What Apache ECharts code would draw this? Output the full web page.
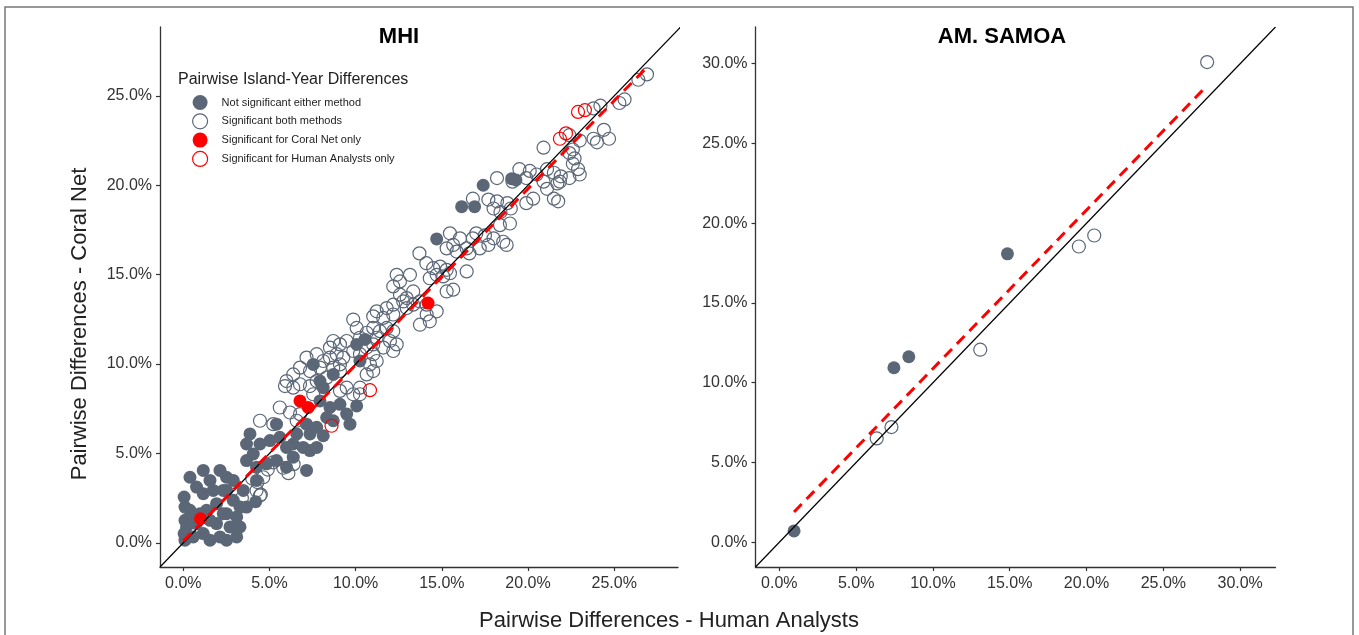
<!DOCTYPE html>
<html>
<head>
<meta charset="utf-8">
<script src="https://cdn.jsdelivr.net/npm/echarts@6/dist/echarts.min.js"></script>
<style>
  html, body { margin: 0; padding: 0; background: #fff; }
  #chart { width: 1359px; height: 635px; }
</style>
</head>
<body>
<div id="chart"></div>
<script>
// ---- Data (percent units: [Human Analysts, Coral Net]) ----
const tickValues = [0, 5, 10, 15, 20, 25];
const tickValuesSamoa = [0, 5, 10, 15, 20, 25, 30];

const mhiNotSig = [
  [0.39,3.67],[1.16,4.05],[2.13,4.05],[2.51,3.67],[1.55,3.49],[0.77,3.12],[0.05,2.56],[0.1,2.0],
  [0.39,1.82],[1.16,2.75],[1.74,2.93],[2.51,2.93],[2.9,2.38],[3.29,2.0],[3.1,1.45],[2.51,1.63],
  [1.93,2.19],[1.35,1.82],[0.77,1.08],[0.19,0.89],[0.05,0.52],[0.1,0.15],[0.58,0.33],[1.16,0.52],
  [1.55,0.15],[2.13,0.33],[2.51,0.15],[3.1,0.33],[3.29,0.89],[2.71,0.89],[1.93,1.08],[2.32,1.63],
  [1.55,1.26],[0.97,1.63],[0.58,1.45],[0.1,1.26],[2.9,3.49],[2.32,2.93],[3.48,2.93],[3.67,2.0],
  [4.2,2.3],
  [7.93,7.94],[8.51,7.57],[8.32,7.01],[9.09,7.75],[9.48,7.2],[10.06,7.66],[9.67,6.64],[8.7,6.83],
  [7.74,6.46],[7.15,6.64],[7.35,6.09],[6.58,6.09],[6.96,5.34],[6.38,5.53],[5.99,5.34],[5.41,6.64],
  [5.6,5.9],[5.03,5.72],[4.45,5.53],[3.87,6.09],[3.67,5.53],[4.06,4.97],[3.67,4.6],[4.25,4.23],
  [4.83,4.42],[5.41,4.6],[5.99,4.23],[6.38,4.79],[7.35,5.16],[7.74,5.34],[8.12,5.99],[7.15,4.05],
  [4.25,3.49],[8.12,8.68],
  [7.54,9.98],[8.7,9.42],[7.93,9.05],[10.06,11.1],[10.54,11.38],[10.25,10.17],
  [14.7,17.0],[16.15,18.8],[16.9,18.8],[17.4,20.0],[19.05,20.37],[19.3,20.3]
];

const mhiBoth = [
  [26.4,25.9],[26.9,26.2],[25.6,24.8],[25.3,24.6],[24.2,24.45],[23.8,24.3],[22.4,22.8],[23.0,22.5],
  [23.8,22.6],[24.0,22.4],[24.4,23.1],[24.7,22.6],[20.9,22.1],[22.6,22.0],[22.4,21.8],[22.7,21.5],
  [22.6,21.2],[22.9,20.9],[21.1,20.9],[21.5,20.7],[21.9,20.5],[22.4,20.4],[23.0,20.6],[19.5,20.9],
  [20.1,20.8],[20.5,20.6],[19.9,20.4],[20.9,20.2],[21.7,20.1],[19.1,20.2],[18.2,20.4],[16.8,19.25],
  [17.7,19.2],[18.2,19.1],[18.8,19.0],[18.0,18.7],[18.4,18.5],[19.0,18.7],[19.9,19.0],[20.3,19.25],
  [21.5,19.25],[21.75,19.1],[21.1,19.8],[21.85,20.2],
  [15.47,17.31],[16.05,17.03],[15.66,16.66],[15.28,16.47],[15.86,16.29],[16.44,16.47],[17.0,17.31],
  [16.8,17.03],[17.5,17.2],[17.7,16.66],[18.0,17.03],[18.56,16.84],[18.76,16.66],[18.37,17.77],
  [18.95,17.86],[17.2,16.47],[16.6,16.19],[13.7,16.19],
  [14.1,15.64],[14.5,15.36],[14.9,15.45],[15.28,15.27],[14.7,14.99],[15.08,14.9],[15.47,15.08],
  [15.66,14.16],[15.28,14.06],[16.44,15.18],[14.3,14.8],
  [12.38,14.99],[13.15,14.99],[12.57,14.62],[12.18,14.34],
  [12.57,13.88],[12.96,13.69],[13.34,14.06],[13.73,13.5],[14.12,13.32],[13.34,13.32],[12.96,13.13],
  [12.76,13.5],[12.18,13.32],[11.8,13.13],[11.22,12.95],[11.02,12.67],[11.6,12.58],[12.18,12.77],
  [14.7,12.95],[14.12,12.77],[13.73,12.2],[14.3,12.39],[9.86,12.49],
  [11.02,12.02],[11.41,11.84],[10.64,11.75],[11.8,12.02],[11.22,11.47],[12.18,11.84],[11.99,11.29],
  [12.38,11.1],[11.02,11.1],[11.6,10.92],[12.18,10.73],[10.64,10.92],[10.25,10.55],[11.02,10.55],
  [9.86,10.73],[9.48,11.29],[9.09,11.1],[8.7,11.29],[8.51,10.92],[8.9,10.55],[9.28,10.36],
  [10.25,11.47],[10.06,12.02],
  [7.15,10.36],[7.74,10.55],[8.12,10.17],[8.51,10.36],[8.7,9.8],[9.09,9.98],[7.93,9.8],[7.35,9.61],
  [6.77,9.8],[6.38,9.42],[5.99,9.05],[6.77,8.87],[7.35,8.77],[7.74,9.05],[8.32,9.24],[9.09,9.61],
  [9.48,8.68],[9.86,8.31],[10.25,8.68],[10.64,9.42],[11.02,9.61],[11.22,10.17],[10.83,9.98],
  [5.9,8.77],[6.38,8.68],[7.54,8.31],[9.09,8.5],[10.25,8.31],
  [5.6,7.57],[6.19,7.29],[6.77,7.2],[6.58,6.83],[4.45,6.83],[5.22,6.64],
  [4.64,3.67],[4.3,3.4],[4.9,4.1],[4.5,2.7],[5.2,4.5],[4.0,3.6],[3.4,2.5],[5.8,4.2],[6.1,3.9],
  [6.4,4.4],[4.45,2.65],[4.25,2.93]
];

const mhiCoralOnly = [[1.0,1.35],[6.77,7.94],[7.25,7.57],[14.2,13.41]];
const mhiHumanOnly = [[10.83,8.54],[8.6,6.55],[21.85,22.6],[22.2,22.9],[22.9,24.1],[23.3,24.2]];

const samoaNotSig = [[0.96,0.71],[7.46,10.94],[8.43,11.63],[14.85,18.08]];
const samoaBoth = [[6.34,6.51],[7.3,7.22],[13.08,12.07],[19.5,18.54],[20.5,19.23],[27.85,30.1]];

// Axis extents, 1:1 reference lines and fitted lines (endpoints)
const mhiRangeX = [-1.35, 28.7];
const mhiRangeY = [-1.35, 28.85];
const samoaRange = [-1.55, 32.3];
const mhiFit = [[0.0,0.1],[26.8,26.5]];
const samoaFit = [[0.96,1.9],[27.85,28.63]];

// ---- Styles ----
const FONT = '"Liberation Sans", Arial, sans-serif';
const SLATE = '#5b6777';
const RED = '#ff0000';
const HOLLOW = 'rgba(0,0,0,0)';

const fmt = v => v.toFixed(1) + '%';

function axis(gridIndex, range, ticks, isX) {
  return {
    type: 'value', gridIndex, min: range[0], max: range[1],
    splitLine: { show: false },
    axisLine: { show: true, onZero: false, lineStyle: { color: '#333', width: 1.3 } },
    axisTick: { show: true, length: 4, customValues: ticks, lineStyle: { color: '#333', width: 1.2 } },
    axisLabel: {
      customValues: ticks, formatter: fmt, margin: isX ? 9 : 8,
      fontSize: 16, color: '#333', fontFamily: FONT
    }
  };
}

function scatter(name, data, idx, filled, color) {
  return {
    type: 'scatter', name, data, xAxisIndex: idx, yAxisIndex: idx,
    symbol: 'circle', symbolSize: 13, silent: true,
    itemStyle: filled
      ? { color: color, borderWidth: 0, opacity: 1 }
      : { color: HOLLOW, borderColor: color, borderWidth: 1.2, opacity: 1 }
  };
}

function line(data, idx, style) {
  return {
    type: 'line', data, xAxisIndex: idx, yAxisIndex: idx, clip: true,
    symbol: 'none', silent: true, z: 5, lineStyle: style
  };
}

const chart = echarts.init(document.getElementById('chart'), null, { renderer: 'canvas' });

chart.setOption({
  animation: false,
  backgroundColor: '#fff',
  grid: [
    { left: 160, top: 27, width: 518, height: 540 },
    { left: 755.5, top: 27, width: 520, height: 540 }
  ],
  xAxis: [axis(0, mhiRangeX, tickValues, true), axis(1, samoaRange, tickValuesSamoa, true)],
  yAxis: [axis(0, mhiRangeY, tickValues, false), axis(1, samoaRange, tickValuesSamoa, false)],
  legend: {
    orient: 'vertical', left: 192, top: 95, padding: 0,
    itemWidth: 15, itemHeight: 15, itemGap: 3.2, selectedMode: false,
    textStyle: { fontSize: 11, color: '#222', fontFamily: FONT, padding: [0, 0, 0, 9] },
    data: [
      { name: 'Not significant either method', icon: 'circle', itemStyle: { color: SLATE, borderWidth: 0 } },
      { name: 'Significant both methods', icon: 'circle', itemStyle: { color: HOLLOW, borderColor: SLATE, borderWidth: 1.2 } },
      { name: 'Significant for Coral Net only', icon: 'circle', itemStyle: { color: RED, borderWidth: 0 } },
      { name: 'Significant for Human Analysts only', icon: 'circle', itemStyle: { color: HOLLOW, borderColor: RED, borderWidth: 1.2 } }
    ]
  },
  graphic: [
    { type: 'rect', silent: true, shape: { x: 5, y: 7, width: 1348, height: 640 },
      style: { fill: 'none', stroke: '#777', lineWidth: 1.5 } },
    { type: 'text', x: 399, y: 37, silent: true,
      style: { text: 'MHI', font: 'bold 22px ' + FONT, fill: '#000', textAlign: 'center', textVerticalAlign: 'middle' } },
    { type: 'text', x: 1002, y: 37, silent: true,
      style: { text: 'AM. SAMOA', font: 'bold 22px ' + FONT, fill: '#000', textAlign: 'center', textVerticalAlign: 'middle' } },
    { type: 'text', x: 178, y: 80, silent: true,
      style: { text: 'Pairwise Island-Year Differences', font: '16px ' + FONT, fill: '#222', textAlign: 'left', textVerticalAlign: 'middle' } },
    { type: 'text', x: 80, y: 324, rotation: Math.PI / 2, silent: true,
      style: { text: 'Pairwise Differences - Coral Net', font: '22px ' + FONT, fill: '#222', textAlign: 'center', textVerticalAlign: 'middle' } },
    { type: 'text', x: 669, y: 621, silent: true,
      style: { text: 'Pairwise Differences - Human Analysts', font: '22px ' + FONT, fill: '#222', textAlign: 'center', textVerticalAlign: 'middle' } }
  ],
  series: [
    scatter('Significant both methods', mhiBoth, 0, false, SLATE),
    scatter('Not significant either method', mhiNotSig, 0, true, SLATE),
    scatter('Significant for Human Analysts only', mhiHumanOnly, 0, false, RED),
    scatter('Significant for Coral Net only', mhiCoralOnly, 0, true, RED),
    scatter('Significant both methods', samoaBoth, 1, false, SLATE),
    scatter('Not significant either method', samoaNotSig, 1, true, SLATE),
    line([[mhiRangeX[0], mhiRangeX[0]], [mhiRangeY[1], mhiRangeY[1]]], 0, { color: '#000', width: 1.2 }),
    line(mhiFit, 0, { color: RED, width: 3, type: [11, 7] }),
    line([[samoaRange[0], samoaRange[0]], [samoaRange[1], samoaRange[1]]], 1, { color: '#000', width: 1.2 }),
    line(samoaFit, 1, { color: RED, width: 3, type: [11, 7] })
  ]
});
</script>
</body>
</html>
